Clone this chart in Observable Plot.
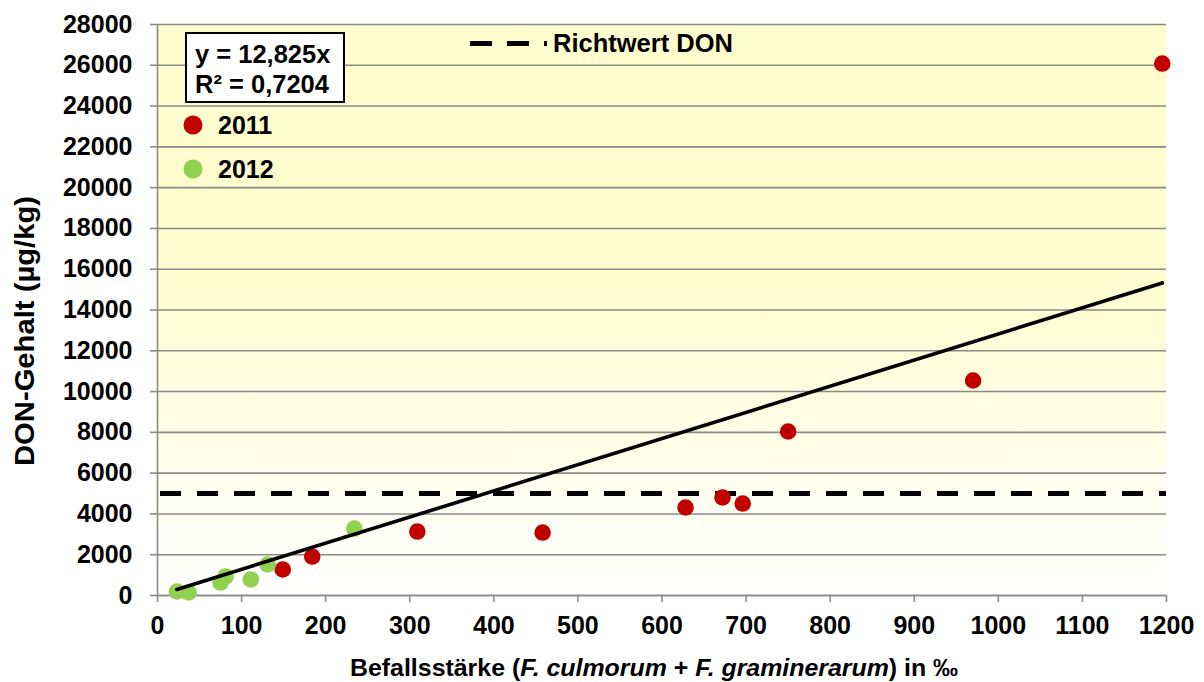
<!DOCTYPE html>
<html>
<head>
<meta charset="utf-8">
<script src="https://cdn.jsdelivr.net/npm/d3@7"></script>
<script src="https://cdn.jsdelivr.net/npm/@observablehq/plot@0.6"></script>
<style>
  html, body { margin: 0; padding: 0; background: #fff; }
  #chart { width: 1204px; height: 682px; }
</style>
</head>
<body>
<div id="chart"></div>
<script>
// ---- data ----
const x2011 = [149, 184, 309, 458, 628, 672, 696, 750, 970, 1195];
const y2011 = [1275, 1912, 3138, 3089, 4315, 4806, 4511, 8042, 10543, 26087];
const x2012 = [23, 37, 75, 81, 111, 131, 234];
const y2012 = [196, 147, 637, 932, 785, 1520, 3285];
const trendSlope = 12.825;
const trendLabel = "y = 12,825x";
const r2Label = "R² = 0,7204";
const richtwert = 5000;
const richtwertLabel = "Richtwert DON";
const seriesNames = ["2011", "2012"];
const seriesColors = ["#C00000", "#92D050"];
const xTicks = [0, 100, 200, 300, 400, 500, 600, 700, 800, 900, 1000, 1100, 1200];
const yTicks = [0, 2000, 4000, 6000, 8000, 10000, 12000, 14000, 16000, 18000, 20000, 22000, 24000, 26000, 28000];
const yTitle = "DON-Gehalt (µg/kg)";

const d2011 = x2011.map((x, i) => ({x, y: y2011[i]}));
const d2012 = x2012.map((x, i) => ({x, y: y2012[i]}));
const allX = x2011.concat(x2012);
const xmin = d3.min(allX), xmax = d3.max(allX);
const trend = [{x: xmin, y: trendSlope * xmin}, {x: xmax, y: trendSlope * xmax}];

const gray = "#8a8a8a";
const font = "'Liberation Sans', Arial, sans-serif";

const chart = Plot.plot({
  width: 1204,
  height: 682,
  marginLeft: 157,
  marginRight: 38,
  marginTop: 24,
  marginBottom: 87,
  style: {fontFamily: font, fontWeight: "bold", fontSize: "25px", color: "#000", background: "#fff", overflow: "visible"},
  x: {domain: [0, 1200]},
  y: {domain: [0, 28000]},
  marks: [
    Plot.frame({fill: "url(#bgGrad)", stroke: null}),
    Plot.gridY(yTicks, {stroke: gray, strokeOpacity: 1, strokeWidth: 1.6}),
    Plot.axisY(yTicks, {tickSize: 7, tickPadding: 18, stroke: gray, strokeWidth: 1.6, tickFormat: d3.format("d"), label: null}),
    Plot.axisX(xTicks, {tickSize: 7, tickPadding: 14, stroke: gray, strokeWidth: 1.6, tickFormat: d3.format("d"), label: null}),
    Plot.ruleX([0], {stroke: gray, strokeWidth: 1.6}),
    Plot.ruleY([0], {stroke: gray, strokeWidth: 1.6}),
    Plot.ruleY([richtwert], {stroke: "#000", strokeWidth: 5, strokeDasharray: "21,16", strokeDashoffset: -3}),
    Plot.dot(d2011, {x: "x", y: "y", r: 8.3, fill: seriesColors[0], stroke: null}),
    Plot.dot(d2012, {x: "x", y: "y", r: 8.3, fill: seriesColors[1], stroke: null}),
    Plot.line(trend, {x: "x", y: "y", stroke: "#000", strokeWidth: 3.6})
  ]
});

document.getElementById("chart").appendChild(chart);

const svg = d3.select(chart);
const defs = svg.insert("defs", ":first-child");
const grad = defs.append("linearGradient").attr("id", "bgGrad")
  .attr("x1", 0).attr("y1", 0).attr("x2", 0).attr("y2", 1);
grad.append("stop").attr("offset", "0").attr("stop-color", "#FFFCCD");
grad.append("stop").attr("offset", "0.45").attr("stop-color", "#FFFCCF");
grad.append("stop").attr("offset", "1").attr("stop-color", "#FFFFFF");

const g = svg.append("g").attr("font-family", font).attr("font-weight", "bold")
  .attr("fill", "#000").attr("text-anchor", "start");

// y-axis title
g.append("text")
  .attr("transform", "translate(33.5,331) rotate(-90)")
  .attr("text-anchor", "middle")
  .attr("font-size", 28)
  .attr("textLength", 270)
  .attr("lengthAdjust", "spacingAndGlyphs")
  .text(yTitle);

// x-axis title with italics
const xt = g.append("text")
  .attr("x", 350).attr("y", 676)
  .attr("text-anchor", "start")
  .attr("font-size", 24)
  .attr("textLength", 608)
  .attr("lengthAdjust", "spacingAndGlyphs");
xt.append("tspan").text("Befallsstärke (");
xt.append("tspan").attr("font-style", "italic").text("F. culmorum");
xt.append("tspan").text(" + ");
xt.append("tspan").attr("font-style", "italic").text("F. graminerarum");
xt.append("tspan").text(") in ‰");

// equation box
g.append("rect").attr("x", 186).attr("y", 33).attr("width", 158).attr("height", 69)
  .attr("fill", "#fff").attr("stroke", "#000").attr("stroke-width", 2);
g.append("text").attr("x", 195).attr("y", 63).attr("font-size", 25.5).text(trendLabel);
g.append("text").attr("x", 195).attr("y", 93).attr("font-size", 25.5).text(r2Label);

// series legend
seriesNames.forEach((name, i) => {
  const cy = 125 + i * 44;
  g.append("circle").attr("cx", 193).attr("cy", cy).attr("r", 9.5).attr("fill", seriesColors[i]);
  g.append("text").attr("x", 218).attr("y", cy + 8.5).attr("font-size", 25).text(name);
});

// Richtwert legend
g.append("line").attr("x1", 470).attr("x2", 547).attr("y1", 43.5).attr("y2", 43.5)
  .attr("stroke", "#000").attr("stroke-width", 5).attr("stroke-dasharray", "22,15");
g.append("text").attr("x", 553).attr("y", 52).attr("font-size", 25.5).text(richtwertLabel);
</script>
</body>
</html>
